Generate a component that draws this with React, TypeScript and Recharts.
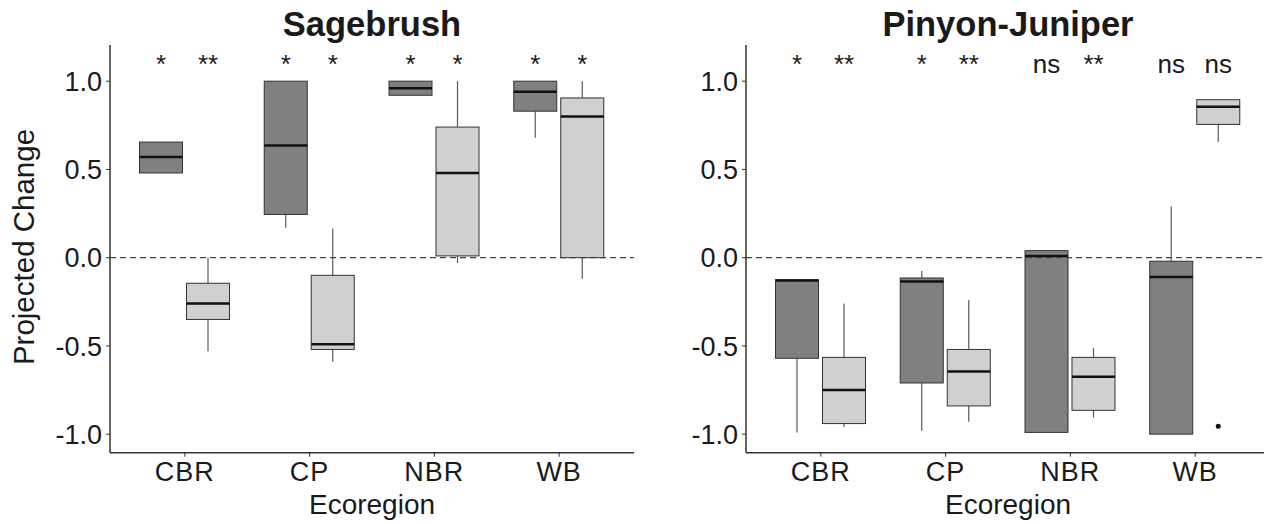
import { ComposedChart, Bar, XAxis, YAxis, ReferenceLine } from "recharts";

const regions = ["CBR", "CP", "NBR", "WB"];

// Sagebrush, dark boxes
const sgDarkLow = [0.48, 0.17, 0.92, 0.68];
const sgDarkQ1 = [0.48, 0.245, 0.92, 0.83];
const sgDarkMed = [0.57, 0.635, 0.96, 0.94];
const sgDarkQ3 = [0.655, 1.0, 1.0, 1.0];
const sgDarkHigh = [0.655, 1.0, 1.0, 1.0];
const sgDarkSig = ["*", "*", "*", "*"];

// Sagebrush, light boxes
const sgLightLow = [-0.53, -0.59, -0.03, -0.12];
const sgLightQ1 = [-0.35, -0.52, 0.01, 0.0];
const sgLightMed = [-0.26, -0.49, 0.48, 0.8];
const sgLightQ3 = [-0.145, -0.1, 0.74, 0.905];
const sgLightHigh = [0.0, 0.165, 1.0, 1.0];
const sgLightSig = ["**", "*", "*", "*"];

// Pinyon-Juniper, dark boxes
const pjDarkLow = [-0.99, -0.98, -0.99, -1.0];
const pjDarkQ1 = [-0.57, -0.71, -0.99, -1.0];
const pjDarkMed = [-0.13, -0.135, 0.01, -0.11];
const pjDarkQ3 = [-0.125, -0.115, 0.04, -0.02];
const pjDarkHigh = [-0.125, -0.075, 0.04, 0.29];
const pjDarkSig = ["*", "*", "ns", "ns"];

// Pinyon-Juniper, light boxes
const pjLightLow = [-0.96, -0.93, -0.905, 0.655];
const pjLightQ1 = [-0.94, -0.84, -0.865, 0.755];
const pjLightMed = [-0.75, -0.645, -0.675, 0.855];
const pjLightQ3 = [-0.565, -0.52, -0.565, 0.895];
const pjLightHigh = [-0.26, -0.24, -0.51, 0.895];
const pjLightOutliers: number[][] = [[], [], [], [-0.955]];
const pjLightSig = ["**", "**", "**", "ns"];

const yTicks = [-1, -0.5, 0, 0.5, 1];
const sigY = 1.1;

const FONT = "'Liberation Sans', Arial, sans-serif";
const DARK = "#808080";
const LIGHT = "#d0d0d0";

type Stat = { low: number; q1: number; med: number; q3: number; high: number; out: number[]; sig: string };

function stat(lo: number[], q1: number[], med: number[], q3: number[], hi: number[], sig: string[], out?: number[][]) {
  return (i: number): Stat => ({ low: lo[i], q1: q1[i], med: med[i], q3: q3[i], high: hi[i], out: out ? out[i] : [], sig: sig[i] });
}

const sgDark = stat(sgDarkLow, sgDarkQ1, sgDarkMed, sgDarkQ3, sgDarkHigh, sgDarkSig);
const sgLight = stat(sgLightLow, sgLightQ1, sgLightMed, sgLightQ3, sgLightHigh, sgLightSig);
const pjDark = stat(pjDarkLow, pjDarkQ1, pjDarkMed, pjDarkQ3, pjDarkHigh, pjDarkSig);
const pjLight = stat(pjLightLow, pjLightQ1, pjLightMed, pjLightQ3, pjLightHigh, pjLightSig, pjLightOutliers);

const sageData = regions.map((region, i) => ({ region, dark: sgDark(i), light: sgLight(i) }));
const pjData = regions.map((region, i) => ({ region, dark: pjDark(i), light: pjLight(i) }));

function boxShape(key: "dark" | "light", fill: string) {
  return (props: any) => {
    const { x, y, width, height, payload } = props;
    const s: Stat = payload[key];
    const top = Math.min(y, y + height);
    const h = Math.abs(height);
    // pixel position of any value, from the bar's own scaled q1..q3 extent
    const py = (v: number) => top + ((s.q3 - v) / (s.q3 - s.q1)) * h;
    const cx = x + width / 2;
    return (
      <g>
        <line x1={cx} x2={cx} y1={py(s.high)} y2={top} stroke="#5a5a5a" strokeWidth={1.2} />
        <line x1={cx} x2={cx} y1={top + h} y2={py(s.low)} stroke="#5a5a5a" strokeWidth={1.2} />
        <rect x={x} y={top} width={width} height={h} fill={fill} stroke="#333" strokeWidth={1} />
        <line x1={x} x2={x + width} y1={py(s.med)} y2={py(s.med)} stroke="#111" strokeWidth={2.5} />
        {s.out.map((o, j) => (
          <circle key={j} cx={cx} cy={py(o)} r={2.5} fill="#111" />
        ))}
        <text
          x={cx}
          y={py(sigY)}
          textAnchor="middle"
          dominantBaseline="central"
          fontSize={26}
          fontFamily={FONT}
          fill="#1a1a1a"
        >
          {s.sig}
        </text>
      </g>
    );
  };
}

function Panel({ data, yWidth, width }: { data: typeof sageData; yWidth: number; width: number }) {
  return (
    <ComposedChart
      width={width}
      height={524}
      data={data}
      margin={{ top: 45, right: 0, bottom: 41.3, left: 0 }}
      barSize={43}
      barGap={4}
    >
      <XAxis
        dataKey="region"
        height={30}
        padding={{ left: 12.5, right: 12.5 }}
        tickSize={4}
        tickMargin={5}
        tick={{ fontSize: 27, fontFamily: FONT, fill: "#1a1a1a", letterSpacing: 1 }}
        axisLine={{ stroke: "#333", strokeWidth: 1.5 }}
        tickLine={{ stroke: "#333" }}
      />
      <YAxis
        type="number"
        width={yWidth}
        domain={[-1.105, 1.205]}
        ticks={yTicks}
        allowDataOverflow
        tickFormatter={(v: number) => v.toFixed(1)}
        tickSize={4}
        tickMargin={4}
        tick={{ fontSize: 27, fontFamily: FONT, fill: "#1a1a1a" }}
        axisLine={{ stroke: "#333", strokeWidth: 1.5 }}
        tickLine={{ stroke: "#333" }}
      />
      <ReferenceLine y={0} stroke="#444" strokeWidth={1.2} strokeDasharray="6 4" />
      <Bar dataKey={(d: any) => [d.dark.q1, d.dark.q3]} shape={boxShape("dark", DARK)} isAnimationActive={false} />
      <Bar dataKey={(d: any) => [d.light.q1, d.light.q3]} shape={boxShape("light", LIGHT)} isAnimationActive={false} />
    </ComposedChart>
  );
}

const textStyle = { position: "absolute" as const, fontFamily: FONT, color: "#1a1a1a", whiteSpace: "nowrap" as const, lineHeight: 1.15 };

export default function App() {
  return (
    <div style={{ position: "absolute", left: 0, top: 0, width: 1264, height: 524, overflow: "hidden", background: "#fff" }}>
      <div style={{ position: "absolute", left: 0, top: 0 }}>
        <Panel data={sageData} yWidth={110} width={634} />
      </div>
      <div style={{ position: "absolute", left: 634, top: 0 }}>
        <Panel data={pjData} yWidth={112} width={636} />
      </div>
      <div style={{ ...textStyle, left: 372, top: 25, transform: "translate(-50%, -50%)", fontSize: 34.5, fontWeight: 700 }}>
        Sagebrush
      </div>
      <div style={{ ...textStyle, left: 1008, top: 25, transform: "translate(-50%, -50%)", fontSize: 34.5, fontWeight: 700 }}>
        Pinyon-Juniper
      </div>
      <div style={{ ...textStyle, left: 372, top: 505, transform: "translate(-50%, -50%)", fontSize: 28 }}>Ecoregion</div>
      <div style={{ ...textStyle, left: 1008, top: 505, transform: "translate(-50%, -50%)", fontSize: 28 }}>Ecoregion</div>
      <div style={{ ...textStyle, left: 24, top: 247, transform: "translate(-50%, -50%) rotate(-90deg)", fontSize: 29.5 }}>
        Projected Change
      </div>
    </div>
  );
}
